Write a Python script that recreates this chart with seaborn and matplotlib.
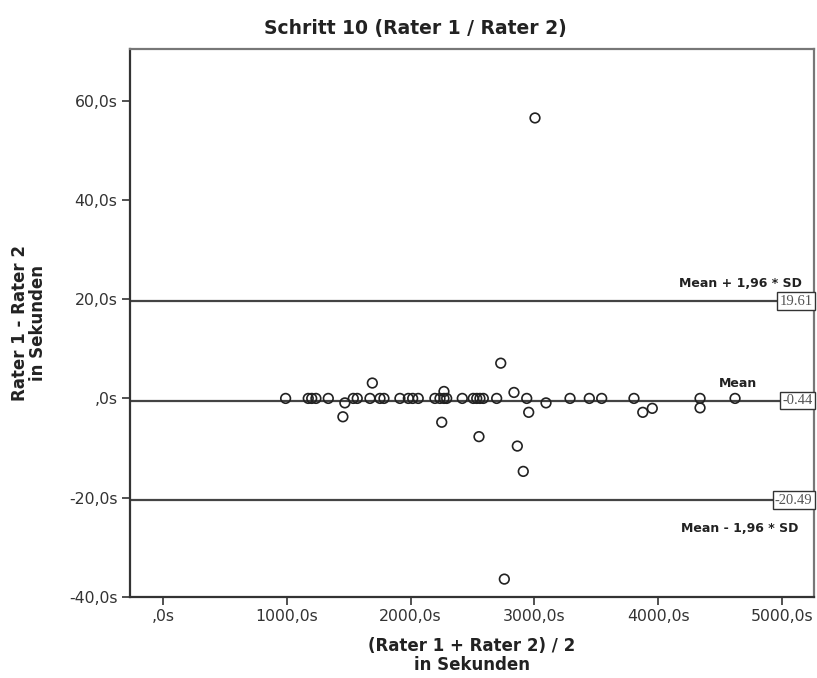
import matplotlib
matplotlib.use("Agg")
import matplotlib.pyplot as plt
import seaborn as sns
import pandas as pd
from matplotlib.ticker import FuncFormatter

# Mean of both raters (seconds)
mean_of_raters = [
    989, 1172, 1200, 1234, 1334, 1536, 1568, 1671, 1752, 1784, 1913, 1981,
    2016, 2061, 2196, 2237, 2269, 2291, 2417, 2506, 2534, 2560, 2587, 2695,
    2938, 3288, 3444, 3544, 3805, 4339, 4622,
    1690, 1468, 1452, 2251, 2269, 2552, 2728, 2835, 2862, 2910, 2757, 2954,
    3094, 3876, 3953, 4339, 3005,
]
# Difference Rater 1 - Rater 2 (seconds)
difference = [
    0, 0, 0, 0, 0, 0, 0, 0, 0, 0, 0, 0,
    0, 0, 0, 0, 0, 0, 0, 0, 0, 0, 0, 0,
    0, 0, 0, 0, 0, 0, 0,
    3.1, -0.9, -3.7, -4.8, 1.4, -7.7, 7.1, 1.2, -9.6, -14.7, -36.4, -2.8,
    -0.9, -2.8, -2.0, -1.9, 56.5,
]
mean_diff = -0.44
upper_loa = 19.61
lower_loa = -20.49

x_ticks = [0, 1000, 2000, 3000, 4000, 5000]
y_ticks = [-40, -20, 0, 20, 40, 60]

df = pd.DataFrame({"mean": mean_of_raters, "diff": difference})

sns.set_theme(style="white")
plt.rcParams["font.family"] = ["DejaVu Sans"]

fig = plt.figure(figsize=(8.17, 6.78), dpi=100)
ax = fig.add_axes([0.1591, 0.1195, 0.8372, 0.8083])

sns.scatterplot(data=df, x="mean", y="diff", ax=ax, marker="o", s=48,
                facecolors="none", edgecolor="#222222", linewidth=1.2,
                zorder=3)

line_col = "#444444"
for val in (upper_loa, mean_diff, lower_loa):
    ax.axhline(val, color=line_col, lw=1.6, zorder=2)

ax.set_xlim(-269, 5260)
ax.set_ylim(-40, 70.4)


def fmt(v, pos):
    if abs(v) < 1e-9:
        return ",0s"
    return f"{v:.1f}".replace(".", ",") + "s"


ax.set_xticks(x_ticks)
ax.set_yticks(y_ticks)
ax.xaxis.set_major_formatter(FuncFormatter(fmt))
ax.yaxis.set_major_formatter(FuncFormatter(fmt))
ax.tick_params(axis="both", which="major", direction="out", length=6,
               width=1.2, color="#333333", labelsize=11.3, labelcolor="#333333",
               bottom=True, left=True, pad=3)

for side in ("left", "bottom"):
    ax.spines[side].set_color("#333333")
    ax.spines[side].set_linewidth(1.6)
for side in ("top", "right"):
    ax.spines[side].set_color("#777777")
    ax.spines[side].set_linewidth(1.6)

ax.set_xlabel("(Rater 1 + Rater 2) / 2\nin Sekunden", fontsize=12,
              fontweight="bold", color="#222222", labelpad=9,
              linespacing=1.05)
ax.set_ylabel("Rater 1 - Rater 2\nin Sekunden", fontsize=12,
              fontweight="bold", color="#222222", labelpad=16,
              linespacing=1.0)
fig.suptitle("Schritt 10 (Rater 1 / Rater 2)", x=0.508, y=0.972,
             fontsize=13.5, fontweight="bold", color="#222222")

# annotations for lines
ax.text(4662, upper_loa + 3.6, "Mean + 1,96 * SD", fontsize=9,
        fontweight="bold", ha="center", va="center", color="#222222")
ax.text(4645, mean_diff + 3.5, "Mean", fontsize=9, fontweight="bold",
        ha="center", va="center", color="#222222")
ax.text(4662, lower_loa - 5.7, "Mean - 1,96 * SD", fontsize=9,
        fontweight="bold", ha="center", va="center", color="#222222")

box = dict(boxstyle="square,pad=0.15", facecolor="white",
           edgecolor="#333333", linewidth=1.0)
for val, label in ((upper_loa, "19.61"), (mean_diff, "-0.44"),
                   (lower_loa, "-20.49")):
    ax.text(5248, val, label, fontsize=10.5, family="Liberation Serif",
            ha="right", va="center", color="#555555", bbox=box, zorder=4)

fig.savefig("out.png", dpi=100)
